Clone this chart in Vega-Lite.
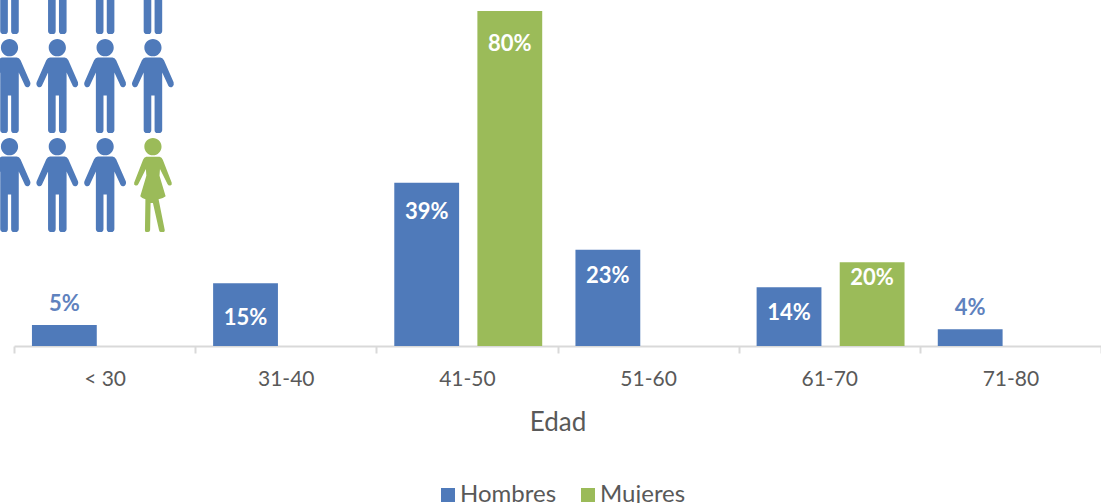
{
  "$schema": "https://vega.github.io/schema/vega-lite/v6.json",
  "width": 1087,
  "height": 346,
  "autosize": {"type": "none"},
  "padding": {"left": 14, "top": 0, "right": 0, "bottom": 157},
  "background": "white",
  "config": {
    "view": {"stroke": null},
    "font": "Lato",
    "axis": {"grid": false}
  },
  "datasets": {
    "edades": [
      {"edad": "< 30", "sexo": "Hombres", "valor": 0.05},
      {"edad": "31-40", "sexo": "Hombres", "valor": 0.15},
      {"edad": "41-50", "sexo": "Hombres", "valor": 0.39},
      {"edad": "41-50", "sexo": "Mujeres", "valor": 0.80},
      {"edad": "51-60", "sexo": "Hombres", "valor": 0.23},
      {"edad": "61-70", "sexo": "Hombres", "valor": 0.14},
      {"edad": "61-70", "sexo": "Mujeres", "valor": 0.20},
      {"edad": "71-80", "sexo": "Hombres", "valor": 0.04}
    ],
    "personas": [
      {"columna": 1, "fila": 1, "sexo": "Hombres", "figura": "hombre"},
      {"columna": 2, "fila": 1, "sexo": "Hombres", "figura": "hombre"},
      {"columna": 3, "fila": 1, "sexo": "Hombres", "figura": "hombre"},
      {"columna": 4, "fila": 1, "sexo": "Hombres", "figura": "hombre"},
      {"columna": 1, "fila": 2, "sexo": "Hombres", "figura": "hombre"},
      {"columna": 2, "fila": 2, "sexo": "Hombres", "figura": "hombre"},
      {"columna": 3, "fila": 2, "sexo": "Hombres", "figura": "hombre"},
      {"columna": 4, "fila": 2, "sexo": "Hombres", "figura": "hombre"},
      {"columna": 1, "fila": 3, "sexo": "Hombres", "figura": "hombre"},
      {"columna": 2, "fila": 3, "sexo": "Hombres", "figura": "hombre"},
      {"columna": 3, "fila": 3, "sexo": "Hombres", "figura": "hombre"},
      {"columna": 4, "fila": 3, "sexo": "Mujeres", "figura": "mujer"}
    ]
  },
  "resolve": {"scale": {"x": "independent", "y": "independent"}},
  "layer": [
    {
      "data": {"name": "personas"},
      "mark": {"type": "point", "filled": true, "opacity": 1, "clip": false},
      "encoding": {
        "x": {"field": "columna", "type": "quantitative", "axis": null,
              "scale": {"domain": [1.094, 23.83], "nice": false, "zero": false}},
        "y": {"field": "fila", "type": "quantitative", "axis": null,
              "scale": {"domain": [1.131, 4.626], "reverse": true, "nice": false, "zero": false}},
        "size": {"value": 8836},
        "color": {
          "field": "sexo", "type": "nominal",
          "scale": {"domain": ["Hombres", "Mujeres"], "range": ["#4F7ABA", "#9BBB59"]},
          "legend": {
            "title": null, "orient": "none", "legendX": 422, "legendY": 483, "direction": "horizontal",
            "columns": 2, "columnPadding": 19, "symbolType": "square", "symbolSize": 196, "symbolStrokeWidth": 0,
            "labelFont": "Lato", "labelFontSize": 24, "labelColor": "#595959", "labelOffset": 0
          }
        },
        "shape": {
          "field": "figura", "type": "nominal", "legend": null,
          "scale": {
            "domain": ["hombre", "mujer"],
            "range": [
              "M-.183,-.817 A.183,.183 0 1 1 .183,-.817 A.183,.183 0 1 1 -.183,-.817 Z M-.155,-.606 L.155,-.606 Q.205,-.6 .235,-.55 L.44,-.08 Q.46,-.02 .41,.02 Q.36,.04 .33,0 L.197,-.29 L.197,.94 Q.19,1 .13,1 L.09,1 Q.04,1 .035,.94 L.035,.2 L-.035,.2 L-.035,.94 Q-.04,1 -.09,1 L-.13,1 Q-.19,1 -.197,.94 L-.197,-.29 L-.33,0 Q-.36,.04 -.41,.02 Q-.46,-.02 -.44,-.08 L-.235,-.55 Q-.205,-.6 -.155,-.606 Z",
              "M-.183,-.817 A.183,.183 0 1 1 .183,-.817 A.183,.183 0 1 1 -.183,-.817 Z M-.14,-.6 L.14,-.6 Q.19,-.59 .21,-.54 L.4,-.05 Q.41,0 .37,.01 Q.33,.02 .31,-.02 L.15,-.34 L.14,-.2 L.27,.24 Q.2,.3 .12,.3 L.25,.95 Q.26,1 .21,1 L.17,1 Q.14,1 .13,.96 L.0,.38 L-.05,.38 L-.06,.96 Q-.07,1 -.11,1 L-.14,1 Q-.17,1 -.17,.96 L-.16,.3 Q-.22,.3 -.27,.24 L-.14,-.2 L-.15,-.34 L-.31,-.02 Q-.33,.02 -.37,.01 Q-.41,0 -.4,-.05 L-.21,-.54 Q-.19,-.59 -.14,-.6 Z"
            ]
          }
        }
      }
    },
    {
      "data": {"name": "edades"},
      "encoding": {
        "x": {
          "field": "edad", "type": "nominal", "sort": null,
          "scale": {"domain": ["< 30", "31-40", "41-50", "51-60", "61-70", "71-80"], "paddingInner": 0, "paddingOuter": 0},
          "axis": {
            "title": "Edad", "titleFont": "Lato", "titleFontSize": 26, "titleFontWeight": "normal",
            "titleColor": "#595959", "titlePadding": 20,
            "labelFont": "Lato", "labelFontSize": 21, "labelColor": "#595959", "labelAngle": 0, "labelPadding": 15,
            "domainColor": "#D9D9D9", "domainWidth": 2,
            "tickColor": "#D9D9D9", "tickWidth": 2, "tickSize": 7, "tickBand": "extent"
          }
        },
        "xOffset": {
          "field": "sexo", "type": "nominal",
          "scale": {"domain": ["Hombres", "Mujeres"], "paddingInner": 0.22, "paddingOuter": 0.2, "align": 0.54}
        },
        "y": {
          "field": "valor", "type": "quantitative", "axis": null,
          "scale": {"domain": [0, 0.826], "nice": false}
        }
      },
      "layer": [
        {
          "mark": {"type": "bar"},
          "encoding": {
            "color": {"field": "sexo", "type": "nominal"}
          }
        },
        {
          "transform": [{"filter": {"field": "valor", "oneOf": [0.8]}}],
          "mark": {"type": "text", "color": "white", "fontWeight": "bold", "fontSize": 22, "font": "Lato", "dy": 33},
          "encoding": {"text": {"field": "valor", "type": "quantitative", "format": ".0%"}}
        },
        {
          "transform": [{"filter": {"field": "valor", "oneOf": [0.15]}}],
          "mark": {"type": "text", "color": "white", "fontWeight": "bold", "fontSize": 22, "font": "Lato", "dy": 35},
          "encoding": {"text": {"field": "valor", "type": "quantitative", "format": ".0%"}}
        },
        {
          "transform": [{"filter": {"field": "valor", "oneOf": [0.39]}}],
          "mark": {"type": "text", "color": "white", "fontWeight": "bold", "fontSize": 22, "font": "Lato", "dy": 29},
          "encoding": {"text": {"field": "valor", "type": "quantitative", "format": ".0%"}}
        },
        {
          "transform": [{"filter": {"field": "valor", "oneOf": [0.14, 0.23]}}],
          "mark": {"type": "text", "color": "white", "fontWeight": "bold", "fontSize": 22, "font": "Lato", "dy": 26},
          "encoding": {"text": {"field": "valor", "type": "quantitative", "format": ".0%"}}
        },
        {
          "transform": [{"filter": {"field": "valor", "oneOf": [0.2]}}],
          "mark": {"type": "text", "color": "white", "fontWeight": "bold", "fontSize": 22, "font": "Lato", "dy": 16},
          "encoding": {"text": {"field": "valor", "type": "quantitative", "format": ".0%"}}
        },
        {
          "transform": [{"filter": {"field": "valor", "oneOf": [0.05, 0.04]}}],
          "mark": {"type": "text", "color": "#5F82BE", "fontWeight": "bold", "fontSize": 22, "font": "Lato", "dy": -21},
          "encoding": {"text": {"field": "valor", "type": "quantitative", "format": ".0%"}}
        }
      ]
    }
  ]
}
